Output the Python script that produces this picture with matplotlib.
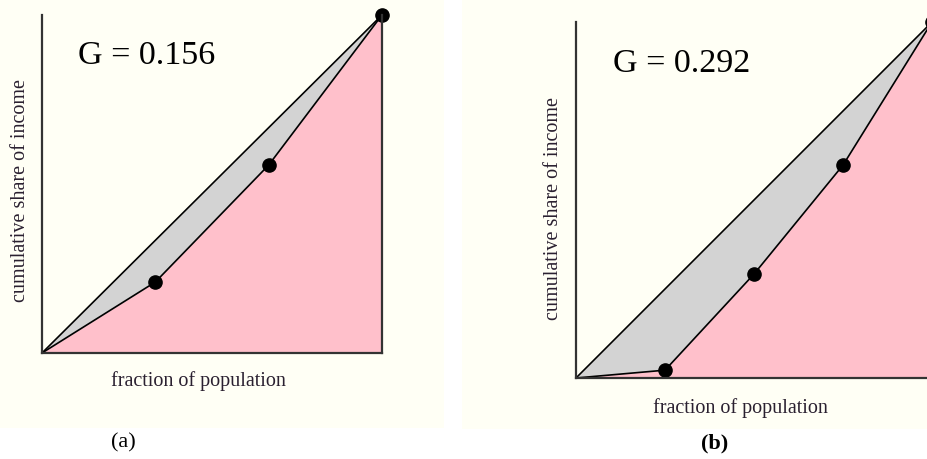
import matplotlib
matplotlib.use("Agg")
import matplotlib.pyplot as plt
from matplotlib.patches import Rectangle

# population fractions and cumulative income shares for each panel
pop_a = [0, 1/3, 2/3, 1]
share_a = [0, 0.21, 0.556, 1]
pop_b = [0, 0.25, 0.5, 0.75, 1]
share_b = [0, 0.022, 0.292, 0.598, 1]
gini_labels = ["G = 0.156", "G = 0.292"]
panel_labels = ["(a)", "(b)"]

W, H = 927, 459
fig = plt.figure(figsize=(W / 100, H / 100), dpi=100)
fig.patch.set_facecolor("white")

cream = "#fffff5"
ink = "#2a2030"
serif = ["Liberation Serif", "DejaVu Serif"]


def px(x, y):
    return x / W, 1 - y / H


# cream backgrounds of both panels (behind the axes)
fig.patches.append(Rectangle(px(0, 428), 444 / W, 428 / H, transform=fig.transFigure,
                             facecolor=cream, edgecolor="none", zorder=-5))
fig.patches.append(Rectangle(px(462, 429), (W - 462) / W, 429 / H, transform=fig.transFigure,
                             facecolor=cream, edgecolor="none", zorder=-5))


def lorenz(box, pop, share, right_spine):
    left, top, right, bottom = box
    x0, y0 = px(left, bottom)
    ax = fig.add_axes([x0, y0, (right - left) / W, (bottom - top) / H])
    ax.set_xlim(0, 1)
    ax.set_ylim(0, 1)
    ax.patch.set_alpha(0)
    ax.fill_between([0, 1], [0, 0], [0, 1], color="#d3d3d3", lw=0, zorder=1)
    ax.fill_between(pop, [0] * len(pop), share, color="pink", lw=0, zorder=2)
    ax.plot([0, 1], [0, 1], color="black", lw=1.2, zorder=3)
    ax.plot(pop, share, color="black", lw=1.2, zorder=3)
    ax.plot(pop[1:], share[1:], "o", color="black", ms=9.5, zorder=4, clip_on=False)
    for s in ["top", "right"]:
        ax.spines[s].set_visible(False)
    for s in ["left", "bottom"]:
        ax.spines[s].set_color("#333333")
        ax.spines[s].set_linewidth(1.6)
        ax.spines[s].set_zorder(5)
    if right_spine:
        ax.plot([1, 1], [0, 1], color="#333333", lw=1.6, zorder=5, clip_on=False)
    ax.set_xticks([])
    ax.set_yticks([])
    return ax


lorenz((42, 15, 382, 353), pop_a, share_a, True)
lorenz((576, 22, 932, 378), pop_b, share_b, False)

# Gini annotations
fig.text(*px(78, 56), gini_labels[0], family=serif, fontsize=24.5, va="center", ha="left")
fig.text(*px(613, 64), gini_labels[1], family=serif, fontsize=24.5, va="center", ha="left")

# axis labels
fig.text(*px(21, 191), "cumulative share of income", family=serif, fontsize=14.5,
         rotation=90, va="center", ha="center", color=ink)
fig.text(*px(553, 208), "cumulative share of income", family=serif, fontsize=14.5,
         rotation=90, va="center", ha="center", color=ink)
fig.text(*px(198, 381), "fraction of population", family=serif, fontsize=14.5,
         va="center", ha="center", color=ink)
fig.text(*px(740, 408), "fraction of population", family=serif, fontsize=14.5,
         va="center", ha="center", color=ink)

# panel labels
fig.text(*px(123, 443), panel_labels[0], family=serif, fontsize=16, va="center", ha="center")
fig.text(*px(715, 443), panel_labels[1], family=serif, fontsize=16, va="center", ha="center",
         weight="bold")

fig.savefig("out.png", dpi=100, facecolor="white")
